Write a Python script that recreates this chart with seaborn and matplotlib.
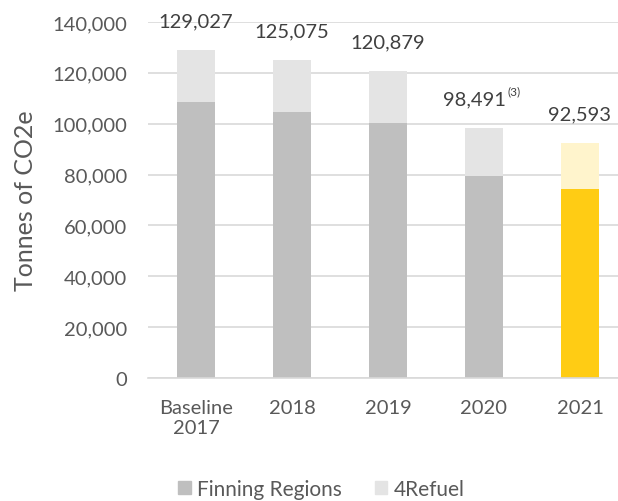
import matplotlib
matplotlib.use("Agg")
import matplotlib.pyplot as plt
import seaborn as sns
import pandas as pd
from matplotlib.patches import Patch

categories = ["Baseline\n2017", "2018", "2019", "2020", "2021"]
finning = [108500, 104600, 100200, 79600, 74300]
refuel = [20527, 20475, 20679, 18891, 18293]
total_labels = ["129,027", "125,075", "120,879", "98,491", "92,593"]
series_names = ["Finning Regions", "4Refuel"]
yticks = [0, 20000, 40000, 60000, 80000, 100000, 120000, 140000]

sns.set_theme(style="white")
plt.rcParams["font.family"] = ["Lato", "DejaVu Sans"]

totals = [f + r for f, r in zip(finning, refuel)]
df = pd.DataFrame({"cat": categories, "finning": finning, "total": totals})

dark_cols = ["#bfbfbf", "#bfbfbf", "#bfbfbf", "#bfbfbf", "#ffcc14"]
light_cols = ["#e4e4e4", "#e4e4e4", "#e4e4e4", "#e4e4e4", "#fff4cc"]

fig = plt.figure(figsize=(6.18, 5.02), dpi=100)
ax = fig.add_axes([148 / 618, 1 - 379 / 502, 470 / 618, (379 - 23) / 502])

sns.barplot(data=df, x="cat", y="total", hue="cat", palette=light_cols,
            legend=False, width=0.4, ax=ax, saturation=1, linewidth=0)
sns.barplot(data=df, x="cat", y="finning", hue="cat", palette=dark_cols,
            legend=False, width=0.4, ax=ax, saturation=1, linewidth=0)

ax.set_ylim(0, 140000)
ax.set_xlim(-0.5, 4.396)
ax.set_yticks(yticks)
ax.set_yticklabels([f"{v:,}" for v in yticks])
ax.yaxis.grid(True, color="#d9d9d9", linewidth=1.2)
ax.set_axisbelow(True)
for s in ["top", "right", "left"]:
    ax.spines[s].set_visible(False)
ax.spines["bottom"].set_color("#d9d9d9")
ax.spines["bottom"].set_linewidth(1.2)
ax.tick_params(axis="y", length=0, pad=15, labelsize=14.5, labelcolor="#595959")
ax.tick_params(axis="x", length=0, pad=15, labelsize=14.5, labelcolor="#595959")
ax.set_xlabel("")
ax.set_ylabel("Tonnes of CO2e", fontsize=18, color="#595959")
ax.yaxis.set_label_coords(-0.236, 0.5)

for i, (t, lab) in enumerate(zip(totals, total_labels)):
    if i == 3:
        ax.annotate(lab, (i, t), xytext=(16, 17), textcoords="offset points",
                    ha="right", va="baseline", fontsize=14.5, color="#404040")
        ax.annotate("(3)", (i, t), xytext=(17, 24), textcoords="offset points",
                    ha="left", va="baseline", fontsize=8.5, color="#404040")
    else:
        ax.annotate(lab, (i, t), xytext=(0, 17), textcoords="offset points",
                    ha="center", va="baseline", fontsize=14.5, color="#404040")

handles = [Patch(color="#bfbfbf"), Patch(color="#e4e4e4")]
fig.legend(handles, series_names, loc="center", bbox_to_anchor=(0.52, 0.024),
           ncol=2, frameon=False, fontsize=15, handlelength=0.6, handleheight=0.6,
           handletextpad=0.3, columnspacing=1.6, labelcolor="#595959")

fig.savefig("out.png", dpi=100)
